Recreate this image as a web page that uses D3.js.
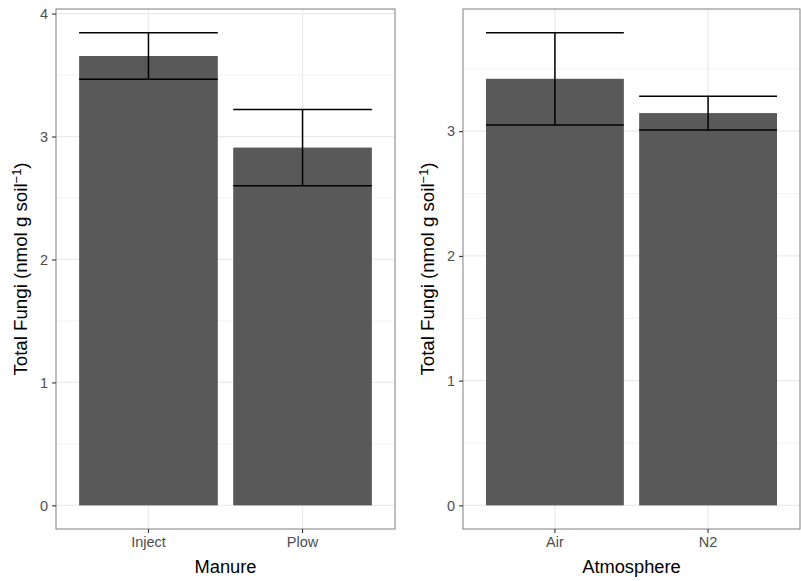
<!DOCTYPE html>
<html>
<head>
<meta charset="utf-8">
<script src="https://cdn.jsdelivr.net/npm/d3@7"></script>
<style>
  body { margin: 0; background: #fff; }
  svg { display: block; font-family: "Liberation Sans", Arial, sans-serif; }
</style>
</head>
<body>
<svg id="chart" width="801" height="581"></svg>
<script>
// Total fungi by manure treatment (mean ± SE)
const manureCats = ["Inject", "Plow"];
const manureMeans = [3.655, 2.91];
const manureSE = [0.19, 0.31];

// Total fungi by incubation atmosphere (mean ± SE)
const atmCats = ["Air", "N2"];
const atmMeans = [3.42, 3.145];
const atmSE = [0.37, 0.135];

const yTitle = "Total Fungi (nmol g soil";

const svg = d3.select("#chart");

function panel(opts) {
  const { cats, means, se, xTitle, x0, x1, y0, y1, titleX } = opts;
  const g = svg.append("g");
  const upper = means.map((m, i) => m + se[i]);
  const maxV = d3.max(upper);
  const y = d3.scaleLinear().domain([-0.05 * maxV, 1.05 * maxV]).range([y1, y0]);
  const x = d3.scaleBand().domain(cats).range([x0, x1]).paddingInner(0.1).paddingOuter(0.15);

  // background grid
  const minor = d3.range(0.5, maxV * 1.05, 1);
  g.selectAll(".ymin").data(minor).join("line")
    .attr("x1", x0).attr("x2", x1)
    .attr("y1", d => y(d)).attr("y2", d => y(d))
    .attr("stroke", "#f3f3f3").attr("stroke-width", 1);
  const major = y.ticks(5).filter(t => t >= y.domain()[0] && t <= y.domain()[1] && Number.isInteger(t));
  g.selectAll(".ymaj").data(major).join("line")
    .attr("x1", x0).attr("x2", x1)
    .attr("y1", d => y(d)).attr("y2", d => y(d))
    .attr("stroke", "#ebebeb").attr("stroke-width", 1.3);
  g.selectAll(".xmaj").data(cats).join("line")
    .attr("x1", d => x(d) + x.bandwidth() / 2).attr("x2", d => x(d) + x.bandwidth() / 2)
    .attr("y1", y0).attr("y2", y1)
    .attr("stroke", "#ebebeb").attr("stroke-width", 1.3);

  // bars
  g.selectAll(".bar").data(cats).join("rect")
    .attr("x", d => x(d)).attr("width", x.bandwidth())
    .attr("y", (d, i) => y(means[i]))
    .attr("height", (d, i) => y(0) - y(means[i]))
    .attr("fill", "#595959");

  // error bars
  const eb = g.selectAll(".eb").data(cats).join("g");
  eb.append("line")
    .attr("x1", d => x(d) + x.bandwidth() / 2).attr("x2", d => x(d) + x.bandwidth() / 2)
    .attr("y1", (d, i) => y(means[i] - se[i])).attr("y2", (d, i) => y(means[i] + se[i]))
    .attr("stroke", "#000").attr("stroke-width", 1.5);
  eb.append("line")
    .attr("x1", d => x(d)).attr("x2", d => x(d) + x.bandwidth())
    .attr("y1", (d, i) => y(means[i] + se[i])).attr("y2", (d, i) => y(means[i] + se[i]))
    .attr("stroke", "#000").attr("stroke-width", 1.5);
  eb.append("line")
    .attr("x1", d => x(d)).attr("x2", d => x(d) + x.bandwidth())
    .attr("y1", (d, i) => y(means[i] - se[i])).attr("y2", (d, i) => y(means[i] - se[i]))
    .attr("stroke", "#000").attr("stroke-width", 1.5);

  // panel border
  g.append("rect")
    .attr("x", x0).attr("y", y0).attr("width", x1 - x0).attr("height", y1 - y0)
    .attr("fill", "none").attr("stroke", "#8a8a8a").attr("stroke-width", 1.1);

  // axes
  const yAxis = d3.axisLeft(y).tickValues(major).tickSize(4).tickPadding(4).tickFormat(d3.format("d"));
  const ya = g.append("g").attr("transform", `translate(${x0},0)`).call(yAxis);
  ya.select(".domain").remove();
  ya.selectAll("line").attr("stroke", "#333").attr("stroke-width", 1.1);
  ya.selectAll("text").attr("fill", "#4d4d4d").style("font-size", "14.5px")
    .style("font-family", "Liberation Sans, Arial, sans-serif");

  const xAxis = d3.axisBottom(x).tickSize(4).tickPadding(4);
  const xa = g.append("g").attr("transform", `translate(0,${y1})`).call(xAxis);
  xa.select(".domain").remove();
  xa.selectAll("line").attr("stroke", "#333").attr("stroke-width", 1.1);
  xa.selectAll("text").attr("fill", "#4d4d4d").style("font-size", "14.5px")
    .style("font-family", "Liberation Sans, Arial, sans-serif");

  // axis titles
  g.append("text")
    .attr("x", (x0 + x1) / 2).attr("y", 573)
    .attr("text-anchor", "middle").style("font-size", "18.3px").attr("fill", "#000")
    .text(xTitle);

  const yt = g.append("text")
    .attr("transform", `translate(${titleX},${(y0 + y1) / 2}) rotate(-90)`)
    .attr("text-anchor", "middle").style("font-size", "18.7px").attr("fill", "#000");
  yt.append("tspan").text(yTitle);
  yt.append("tspan").attr("dy", "-0.45em").style("font-size", "13px").text("\u22121");
  yt.append("tspan").attr("dy", "0.31em").text(")");
}

panel({ cats: manureCats, means: manureMeans, se: manureSE, xTitle: "Manure",
        x0: 56, x1: 395, y0: 9, y1: 529, titleX: 27 });
panel({ cats: atmCats, means: atmMeans, se: atmSE, xTitle: "Atmosphere",
        x0: 463, x1: 800, y0: 9, y1: 529, titleX: 434 });
</script>
</body>
</html>
